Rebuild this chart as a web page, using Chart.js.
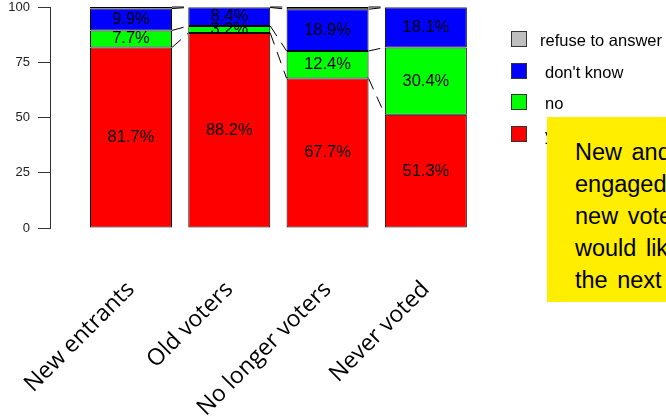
<!DOCTYPE html>
<html>
<head>
<meta charset="utf-8">
<script src="https://cdn.jsdelivr.net/npm/chart.js@4"></script>
<style>
body { margin:0; width:666px; height:417px; overflow:hidden; background:#fff; position:relative; font-family:"Liberation Sans", Arial, sans-serif; }
#grafico { position:absolute; left:0; top:0; }
.leyenda { position:absolute; font-size:16.5px; color:#000; line-height:16px; white-space:nowrap; }
.leyenda .caja { position:absolute; top:-1px; width:14px; height:14px; border:1px solid #333; }
#nota { position:absolute; left:547px; top:117px; width:260px; height:185px; background:#ffee00; font-size:23.5px; line-height:32px; word-spacing:3px; padding:19px 0 0 28px; box-sizing:border-box; white-space:nowrap; color:#000; }
</style>
</head>
<body>
<canvas id="grafico" width="666" height="417"></canvas>
<div id="leyenda"></div>
<div id="nota">New and re-<br>engaged voters:<br>new voters<br>would like to vote<br>the next time</div>
<script>
var grupos = ["New entrants", "Old voters", "No longer voters", "Never voted"]
var si = [81.7, 88.2, 67.7, 51.3]
var no = [7.7, 3.2, 12.4, 30.4]
var no_sabe = [9.9, 8.4, 18.9, 18.1]
var rehusa = [0.7, 0.2, 1.0, 0.2]
var ticks_y = [0, 25, 50, 75, 100]

var COLORES = {
    "si": "#ff0000",
    "no": "#00ff00",
    "no_sabe": "#0000ff",
    "rehusa": "#bebebe",
}

// lineas punteadas entre barras vecinas
var conectores = {
    id: 'conectores',
    afterDatasetsDraw: function(c){
        var ctx = c.ctx
        ctx.save()
        ctx.strokeStyle = '#000'
        ctx.lineWidth = 1
        ctx.setLineDash([12, 8])
        c.data.datasets.forEach(function(ds, i){
            var barras = c.getDatasetMeta(i).data
            for (var j = 0; j < barras.length - 1; j++){
                var a = barras[j], b = barras[j + 1]
                ctx.beginPath()
                ctx.moveTo(a.x + a.width / 2, a.y)
                ctx.lineTo(b.x - b.width / 2, b.y)
                ctx.stroke()
            }
        })
        ctx.restore()
    }
}

// porcentajes dentro de cada segmento
var etiquetas = {
    id: 'etiquetas',
    afterDatasetsDraw: function(c){
        var ctx = c.ctx
        ctx.save()
        ctx.font = '16.5px "Liberation Sans"'
        ctx.textAlign = 'center'
        ctx.textBaseline = 'middle'
        ctx.fillStyle = '#000'
        c.data.datasets.forEach(function(ds, i){
            if (!ds.etiqueta) return
            c.getDatasetMeta(i).data.forEach(function(bar, j){
                ctx.fillText(ds.valores[j].toFixed(1) + '%', bar.x, (bar.y + bar.base) / 2)
            })
        })
        ctx.restore()
    }
}

function serie(nombre, datos, color, etiqueta){
    return {
        label: nombre,
        data: datos.map(function(v, i){ return { x: i, y: v } }),
        valores: datos,
        backgroundColor: color,
        borderColor: '#000',
        borderWidth: 1,
        borderSkipped: false,
        etiqueta: etiqueta,
        barPercentage: 0.834,
        categoryPercentage: 1,
    }
}

var series = [
    serie("yes", si, COLORES["si"], true),
    serie("no", no, COLORES["no"], true),
    serie("don't know", no_sabe, COLORES["no_sabe"], true),
    serie("refuse to answer", rehusa, COLORES["rehusa"], false),
]

var chart = new Chart(document.getElementById('grafico'), {
    type: 'bar',
    data: { datasets: series },
    options: {
        responsive: false,
        animation: false,
        layout: { padding: { left: 0, right: 191, top: 7, bottom: 0 } },
        plugins: { legend: { display: false }, tooltip: { enabled: false } },
        scales: {
            x: {
                type: 'linear',
                stacked: true,
                min: -0.824,
                max: 3.5,
                offset: false,
                grid: { display: false },
                border: { display: false },
                afterBuildTicks: function(s){ s.ticks = grupos.map(function(g, i){ return { value: i } }) },
                ticks: { minRotation: 45, maxRotation: 45, color: '#000', padding: 40, autoSkip: false,
                         font: { family: 'Open Sans', size: 23 },
                         callback: function(v){ return grupos[v] } },
                afterFit: function(s){ s.height = 189; s.paddingLeft = 0; s.paddingRight = 0 },
            },
            y: {
                stacked: true,
                min: 0,
                max: 100,
                afterBuildTicks: function(s){ s.ticks = ticks_y.map(function(v){ return { value: v } }) },
                ticks: { color: '#222', padding: 8, font: { family: 'Liberation Sans', size: 13 } },
                grid: { drawOnChartArea: false, tickLength: 12, color: '#333' },
                border: { color: '#333' },
                afterFit: function(s){ s.width = 50; s.paddingTop = 0; s.paddingBottom = 0 },
            },
        },
    },
    plugins: [conectores, etiquetas],
})

// leyenda en orden inverso
var leyenda = document.getElementById('leyenda')
series.slice().reverse().forEach(function(ds, k){
    var d = document.createElement('div')
    d.className = 'leyenda'
    d.style.left = (k == 0 ? 540 : 545) + 'px'
    d.style.top = (32 + k * 31.7) + 'px'
    d.innerHTML = '<span class="caja" style="background:' + ds.backgroundColor + ';left:' + (k == 0 ? -29 : -34) + 'px"></span>' + ds.label
    leyenda.appendChild(d)
})
</script>
</body>
</html>
